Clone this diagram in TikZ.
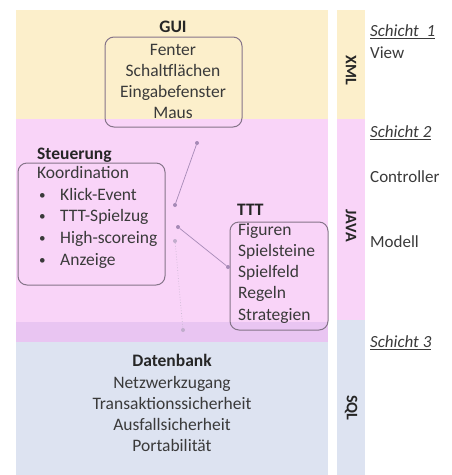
\documentclass[tikz,border=0pt]{standalone}
\usepackage{fontspec}
\setmainfont{Carlito}
\definecolor{yel}{HTML}{FCEFCB}
\definecolor{pnk}{HTML}{F9D4F8}
\definecolor{band}{HTML}{E9C5F2}
\definecolor{blu}{HTML}{DDE3F1}
\definecolor{boxline}{HTML}{857489}
\definecolor{conn}{HTML}{A68AB6}
\definecolor{txt}{HTML}{3A3A3A}
\newcommand{\blt}{\hspace*{2pt}\makebox[21pt][l]{\raisebox{1pt}{\scalebox{0.75}{\textbullet}}}}
\begin{document}
\begin{tikzpicture}[x=1pt,y=-1pt,
  every node/.style={font=\fontsize{17.5}{21}\selectfont, text=txt, inner sep=0pt},
  ttl/.style={font=\fontsize{17.5}{21}\selectfont\bfseries, text=black!85},
  rbox/.style={draw=boxline, line width=1pt, rounded corners=9pt, fill=none},
  lines/.style={align=center},
  dot/.style={circle, fill=conn, minimum size=4pt, inner sep=0pt},
  conline/.style={draw=conn, line width=0.7pt},
  layer/.style={font=\fontsize{17}{21}\selectfont\itshape, text=txt, anchor=west},
  side/.style={font=\fontsize{17}{21}\selectfont, text=txt, anchor=west},
  strip/.style={font=\fontsize{16}{18}\selectfont\bfseries, text=black!85, rotate=-90}
]
\useasboundingbox (0,0) rectangle (451,475);
\fill[white] (0,0) rectangle (451,475);
% main panel bands
\fill[yel] (16,10) rectangle (328,119);
\fill[pnk] (16,119) rectangle (328,322);
\fill[band] (16,322) rectangle (328,342);
\fill[blu] (16,342) rectangle (328,475);
% side strip
\fill[yel] (337,10) rectangle (365,119);
\fill[pnk] (337,119) rectangle (365,320);
\fill[blu] (337,320) rectangle (365,475);

% GUI
\node[ttl] (guit) at (173,27) {GUI};
\node[rbox, minimum width=137pt, minimum height=90pt] (guibox) at (173.5,82) {};
\node[lines] (guitxt) at (173,81) {Fenter\\Schaltflächen\\Eingabefenster\\Maus};

% Steuerung
\node[ttl, anchor=west] (steut) at (37,155) {Steuerung};
\node[rbox, minimum width=147pt, minimum height=122pt] (steubox) at (91.5,224) {};
\node[align=left, anchor=north west, font=\fontsize{17.5}{21.7}\selectfont] (steutxt) at (37,166)
  {Koordination\\
   \blt Klick-Event\\
   \blt TTT-Spielzug\\
   \blt High-scoreing\\
   \blt Anzeige};

% TTT
\node[ttl, anchor=west] (tttt) at (237,210) {TTT};
\node[rbox, minimum width=98pt, minimum height=108pt] (tttbox) at (279,276) {};
\node[align=left, anchor=north west, font=\fontsize{17.5}{21.2}\selectfont] (ttttxt) at (238,223)
  {Figuren\\Spielsteine\\Spielfeld\\Regeln\\Strategien};

% Datenbank
\node[ttl] (dbt) at (172,360) {Datenbank};
\node[lines] (dbtxt) at (172,413.5) {Netzwerkzugang\\Transaktionssicherheit\\Ausfallsicherheit\\Portabilität};

% strip labels
\node[strip] (xml) at (351,70) {XML};
\node[strip] (java) at (351,226) {JAVA};
\node[strip] (sql) at (351,408) {SQL};

% right labels
\node[layer] (s1) at (370,32) {\underline{Schicht\ \ 1}};
\node[side] (view) at (370,53) {View};
\node[layer] (s2) at (370,133) {\underline{Schicht 2}};
\node[side] (ctrl) at (370,177) {Controller};
\node[side] (mod) at (370,242) {Modell};
\node[layer] (s3) at (370,343) {\underline{Schicht 3}};

% connectors
\node[dot] (a1) at (197,143) {};
\node[dot] (a2) at (175,205) {};
\node[dot] (b1) at (178,227) {};
\node[dot] (b2) at (228,267) {};
\node[dot, fill=conn!70] (c1) at (175,241) {};
\node[dot, fill=conn!70] (c2) at (183,330) {};
\draw[conline] (a1) -- (a2);
\draw[conline] (b1) -- (b2);
\draw[conline, draw=conn!60, dotted] (c1) -- (c2);
\end{tikzpicture}
\end{document}
